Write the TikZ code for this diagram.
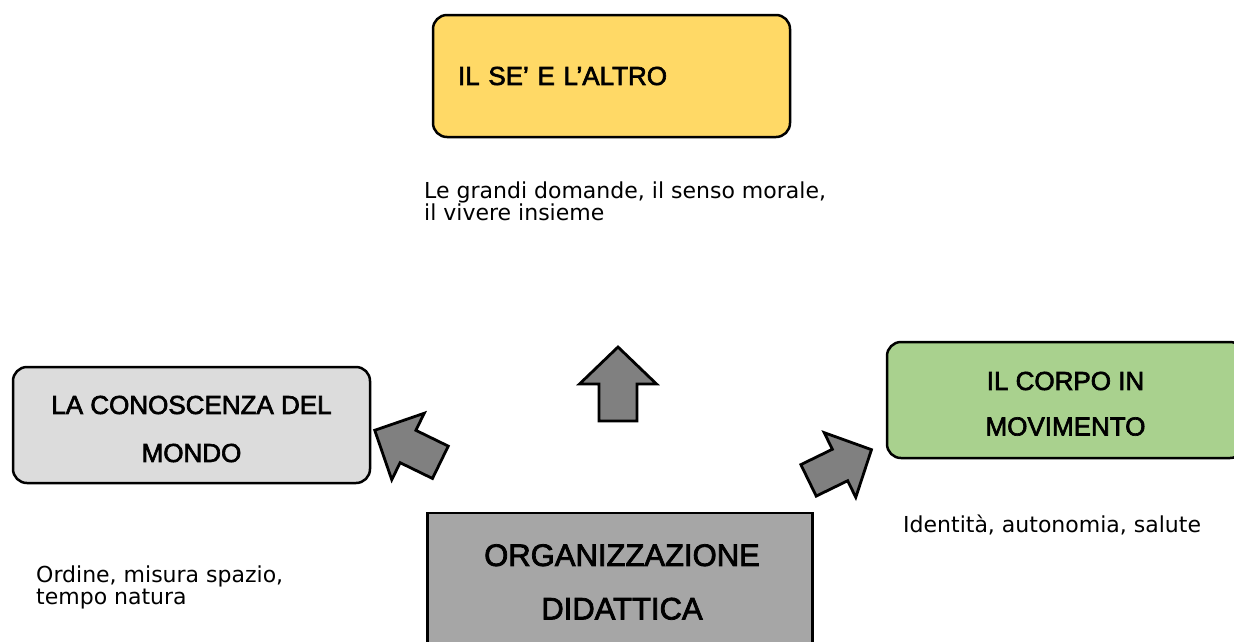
\documentclass[tikz,border=0pt]{standalone}
\usepackage{fontspec}
\setmainfont{Liberation Sans}
\newfontfamily\boxfont{Liberation Sans}[FakeBold=2.5]
\newfontfamily\notefont{DejaVu Sans}
\definecolor{yellowfill}{HTML}{FFD966}
\definecolor{greyfill}{HTML}{DCDCDC}
\definecolor{greenfill}{HTML}{A9D18E}
\definecolor{orgfill}{HTML}{A6A6A6}
\definecolor{arrowfill}{HTML}{808080}
\begin{document}
\begin{tikzpicture}[x=1pt,y=-1pt,
  box/.style={draw=black, line width=2.5pt, rounded corners=14pt, inner sep=0pt},
  boxtext/.style={align=center, inner sep=0pt},
  note/.style={font=\notefont\fontsize{22}{22.5}\selectfont, align=left, inner sep=0pt},
  blockarrow/.style={draw=black, line width=2.8pt, fill=arrowfill, line join=miter}]
\useasboundingbox (0,0) rectangle (1234,641);
\clip (0,0) rectangle (1234,641);

% boxes
\node[box, fill=yellowfill, minimum width=357pt, minimum height=122pt,
      text width=307pt, inner xsep=25pt, align=left,
      font=\boxfont\fontsize{26}{30}\selectfont] (se) at (611.5,76) {IL SE’ E L’ALTRO};

\node[box, fill=greyfill, minimum width=357pt, minimum height=116pt] (mondo) at (191.5,425) {};
\node[boxtext, font=\boxfont\fontsize{26}{48}\selectfont] (mondotext) at ([yshift=-4pt]mondo.center)
  {LA CONOSCENZA DEL\\MONDO};

\node[box, fill=greenfill, minimum width=357pt, minimum height=116pt] (corpo) at (1065.5,400) {};
\node[boxtext, font=\boxfont\fontsize{26}{45.5}\selectfont] (corpotext) at ([yshift=-3.75pt]corpo.center)
  {IL CORPO IN\\MOVIMENTO};

\node[box, sharp corners, fill=orgfill, minimum width=385pt, minimum height=138pt] (org) at (620,582) {};
\node[boxtext, font=\boxfont\fontsize{31}{53.5}\selectfont] (orgtext) at ([xshift=2pt]org.center)
  {ORGANIZZAZIONE\\DIDATTICA};

% notes
\node[note, anchor=north west] (n1) at (424,181.3) {Le grandi domande, il senso morale,\\il vivere insieme};
\node[note, anchor=base west] (n2) at (903,532) {Identità, autonomia, salute};
\node[note, anchor=north west] (n3) at (36,565.3) {Ordine, misura spazio,\\tempo natura};

% block arrows
\draw[blockarrow, shift={(618,384)}]
  (0,-37) -- (38.5,0) -- (19,0) -- (19,37) -- (-19,37) -- (-19,0) -- (-38.5,0) -- cycle;
\draw[blockarrow, shift={(408,446.5)}, rotate=64]
  (0,-37) -- (37,0) -- (18,0) -- (18,36) -- (-18,36) -- (-18,0) -- (-37,0) -- cycle;
\draw[blockarrow, shift={(840,465)}, rotate=-64]
  (0,-35) -- (36,0) -- (17.5,0) -- (17.5,35) -- (-17.5,35) -- (-17.5,0) -- (-36,0) -- cycle;
\end{tikzpicture}
\end{document}
